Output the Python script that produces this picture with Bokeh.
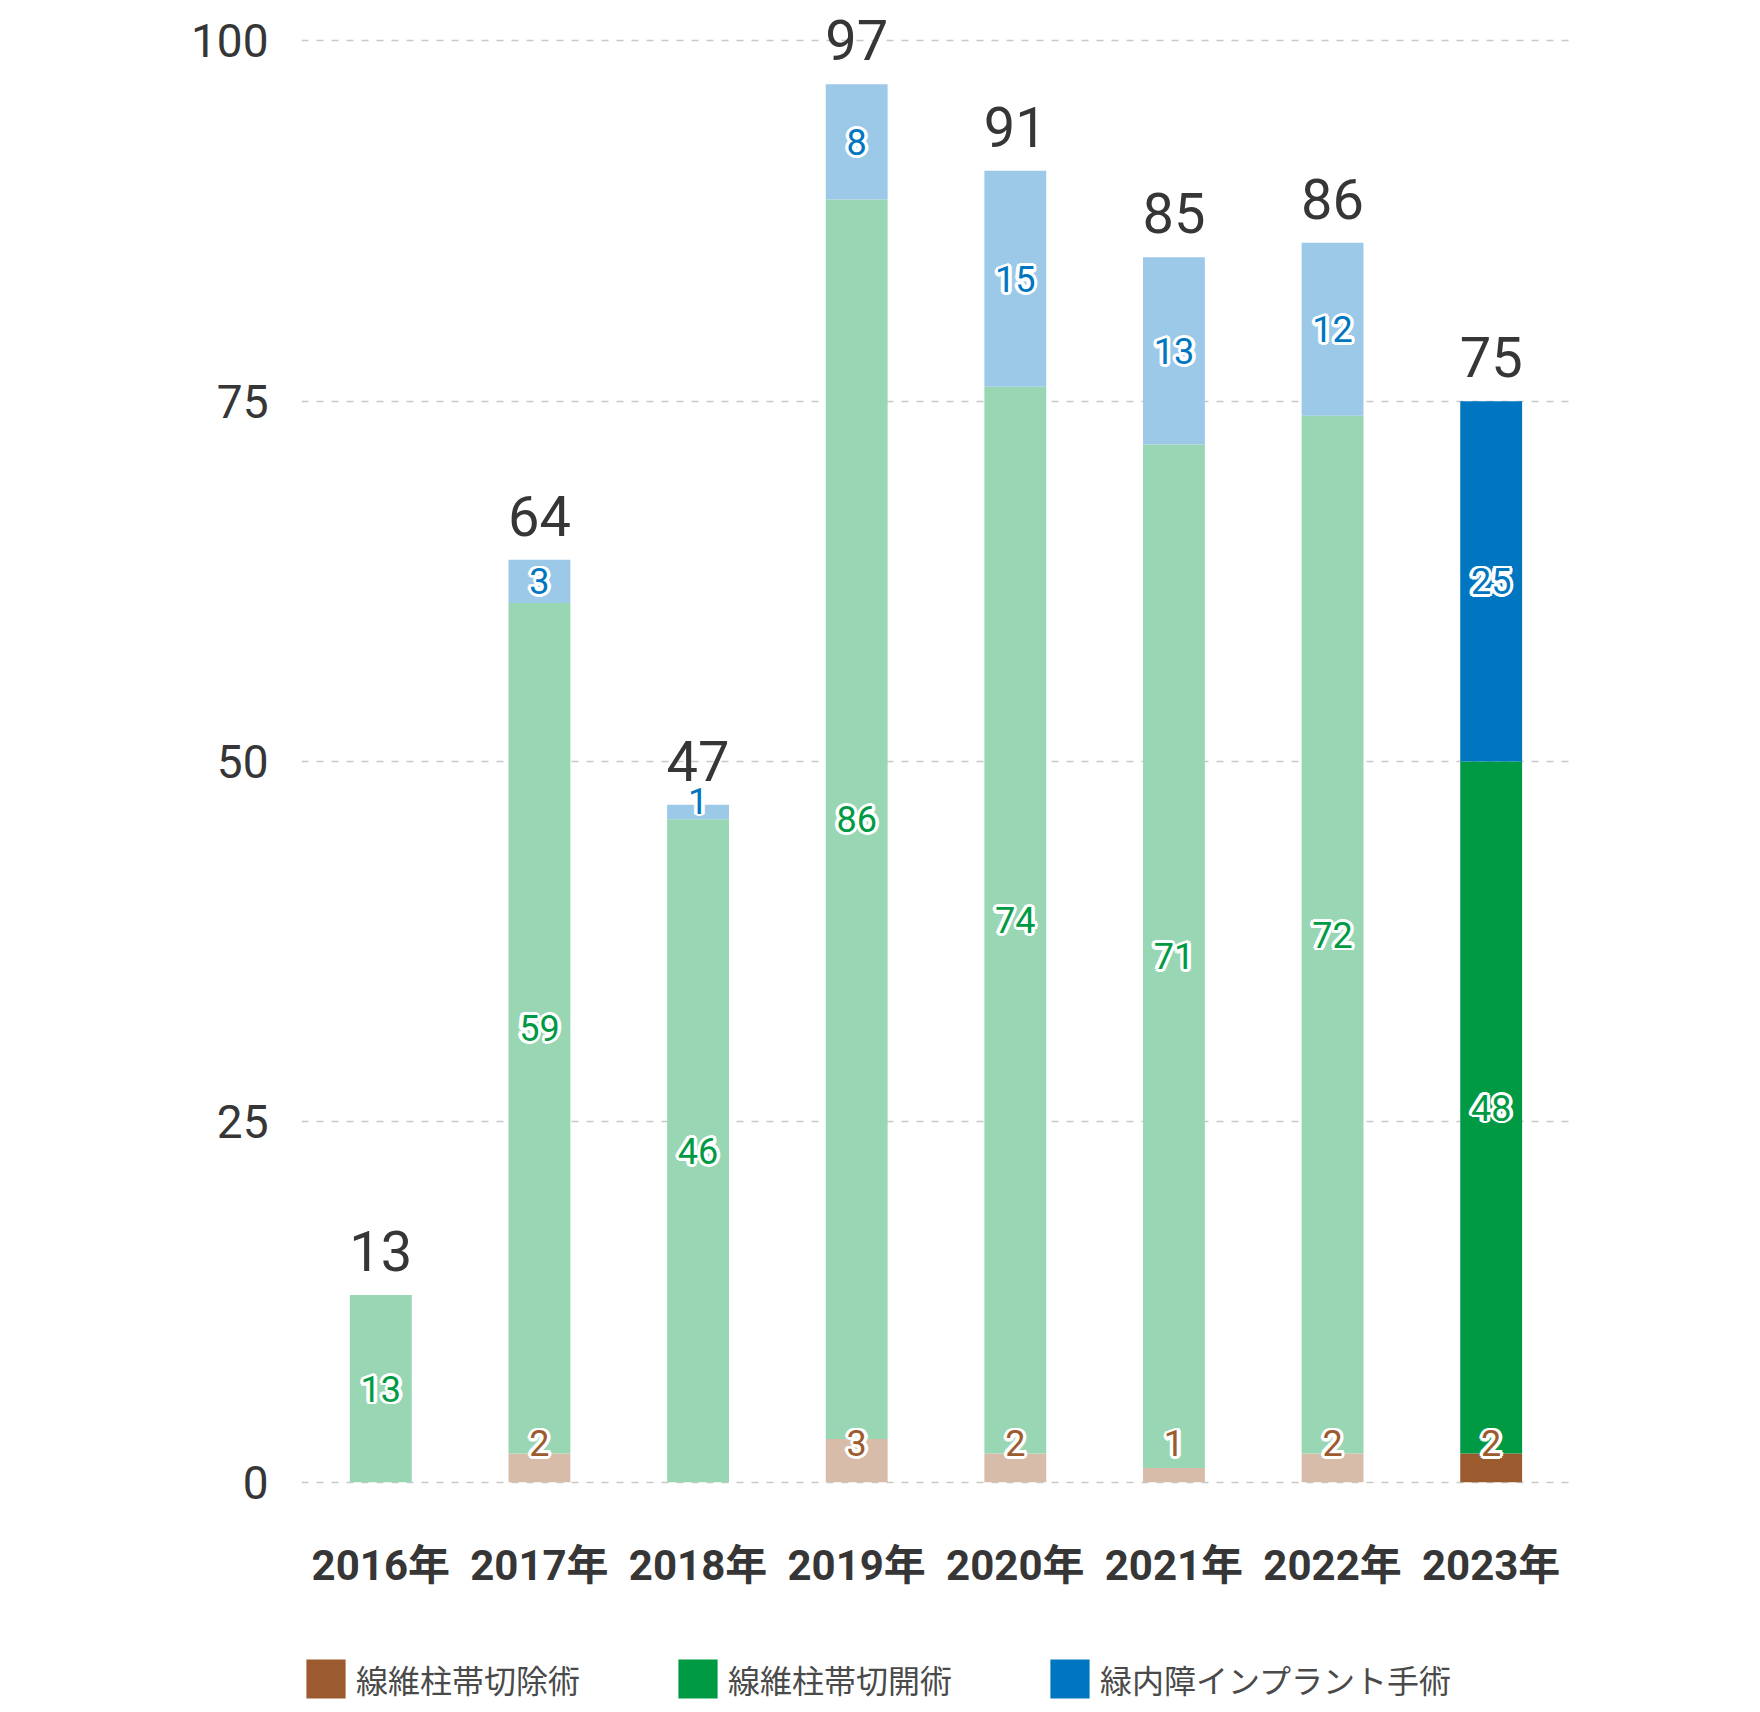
import numpy as np
from bokeh.plotting import figure
from bokeh.models import FactorRange, Range1d, FixedTicker, Legend, LegendItem, ColumnDataSource
from bokeh.layouts import column
from bokeh.core.properties import value
from bokeh.embed import file_html
from bokeh.resources import INLINE

# ---- data ----
years = ["2016年", "2017年", "2018年", "2019年", "2020年", "2021年", "2022年", "2023年"]
excision = [0, 2, 0, 3, 2, 1, 2, 2]          # 線維柱帯切除術
incision = [13, 59, 46, 86, 74, 71, 72, 48]  # 線維柱帯切開術
implant = [0, 3, 1, 8, 15, 13, 12, 25]       # 緑内障インプラント手術
series_names = ["線維柱帯切除術", "線維柱帯切開術", "緑内障インプラント手術"]
y_ticks = [0, 25, 50, 75, 100]
highlight_year = "2023年"

# ---- styles ----
DARK = ["#9C5B2F", "#009A44", "#0076C0"]
LIGHT = ["#D6BCA9", "#99D6B4", "#9CC9E8"]
NUM_FONT = "Roboto, 'Noto Sans CJK JP'"
TXT = "#363636"

exc = np.array(excision, dtype=float)
inc = np.array(incision, dtype=float)
imp = np.array(implant, dtype=float)
b0 = np.zeros_like(exc)
t0 = exc
b1 = t0
t1 = b1 + inc
b2 = t1
t2 = b2 + imp
totals = t2

p = figure(width=1744, height=1616, x_range=FactorRange(*years, range_padding=0),
           y_range=Range1d(-0.5, 102.25), output_backend="svg", toolbar_location=None,
           min_border_left=301, min_border_right=174, min_border_top=8, min_border_bottom=127)
p.outline_line_color = None
p.background_fill_color = "white"
p.border_fill_color = "white"

BAR_W = 0.39
for k, (bot, top) in enumerate([(b0, t0), (b1, t1), (b2, t2)]):
    colors = [DARK[k] if y == highlight_year else LIGHT[k] for y in years]
    src = ColumnDataSource(dict(x=years, bottom=bot, top=top, c=colors))
    p.vbar(x="x", bottom="bottom", top="top", width=BAR_W, fill_color="c", line_color=None, source=src)

# segment labels
lx, ly, lt, lc = [], [], [], []
vals = [exc, inc, imp]
bots = [b0, b1, b2]
for k in range(3):
    for i, y in enumerate(years):
        v = vals[k][i]
        if v <= 0:
            continue
        mid = bots[k][i] + v / 2.0
        if k == 0:
            mid = max(mid, 2.7)
        elif k == 2:
            mid = max(mid, bots[k][i] + 1.3)
        lx.append(y)
        ly.append(mid)
        lt.append(str(int(v)))
        lc.append(DARK[k])
lsrc = ColumnDataSource(dict(x=lx, y=ly, t=lt, c=lc))
r = 2.8
for dx, dy in [(-r, 0), (r, 0), (0, -r), (0, r), (-r * .7, -r * .7), (r * .7, -r * .7), (-r * .7, r * .7), (r * .7, r * .7)]:
    p.text(x="x", y="y", text="t", source=lsrc, x_offset=dx, y_offset=dy,
           text_align="center", text_baseline="middle", text_color="white",
           text_font=value(NUM_FONT), text_font_size="36px", text_font_style="bold")
p.text(x="x", y="y", text="t", source=lsrc, text_align="center", text_baseline="middle",
       text_color="c", text_font=value(NUM_FONT), text_font_size="36px")

# totals
tsrc = ColumnDataSource(dict(x=years, y=totals, t=[str(int(v)) for v in totals]))
p.text(x="x", y="y", text="t", source=tsrc, y_offset=-44, text_align="center",
       text_baseline="middle", text_color=TXT, text_font=value(NUM_FONT), text_font_size="56px")

# axes
p.yaxis.ticker = FixedTicker(ticks=y_ticks)
p.yaxis.axis_line_color = None
p.yaxis.major_tick_line_color = None
p.yaxis.minor_tick_line_color = None
p.yaxis.major_label_text_font = NUM_FONT
p.yaxis.major_label_text_font_size = "46px"
p.yaxis.major_label_text_color = TXT
p.yaxis.major_label_standoff = 27

p.xaxis.axis_line_color = None
p.xaxis.major_tick_line_color = None
p.xaxis.minor_tick_line_color = None
p.xaxis.major_label_text_font = NUM_FONT
p.xaxis.major_label_text_font_size = "42px"
p.xaxis.major_label_text_font_style = "bold"
p.xaxis.major_label_text_color = TXT
p.xaxis.major_label_standoff = 45

p.xgrid.grid_line_color = None
p.ygrid.grid_line_color = "#C8C8C8"
p.ygrid.grid_line_dash = "7 8"
p.ygrid.grid_line_width = 1.5

# legend figure
p2 = figure(width=1744, height=92, x_range=(0, 1), y_range=(0, 1), output_backend="svg",
            toolbar_location=None, x_axis_location=None, y_axis_location=None,
            min_border_left=270, min_border_top=38, min_border_right=0, min_border_bottom=0)
p2.outline_line_color = None
p2.xgrid.grid_line_color = None
p2.ygrid.grid_line_color = None
items = []
for k, name in enumerate(series_names):
    rr = p2.vbar(x=[-5], top=[-5], bottom=[-6], width=0.5, fill_color=DARK[k], line_color=None)
    items.append(LegendItem(label=name, renderers=[rr]))
leg = Legend(items=items, location="top_left", orientation="horizontal", glyph_width=49,
             glyph_height=49, label_standoff=6, spacing=93, padding=0, margin=0,
             border_line_color=None, background_fill_alpha=0, label_text_font_size="32px",
             label_text_font="Noto Sans CJK JP", label_text_color="#4a4a4a",
             label_text_baseline="middle")
p2.add_layout(leg)

layout = column(p, p2, spacing=0)
open("out.html", "w").write(file_html(layout, INLINE))
